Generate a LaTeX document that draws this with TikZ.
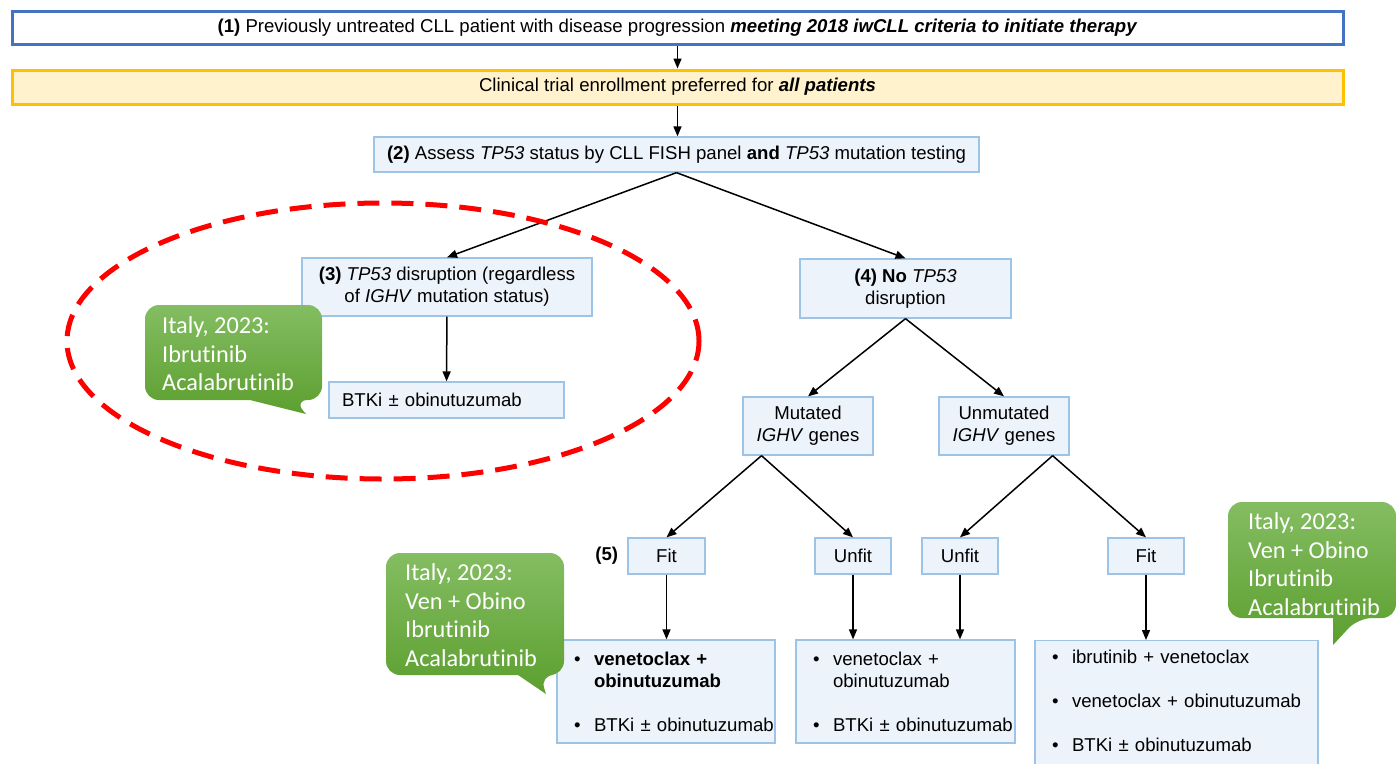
\documentclass[tikz,border=0pt]{standalone}
\usepackage{fontspec}
\setmainfont{Liberation Sans}
\newfontfamily\notefont[Ligatures=NoCommon]{Carlito}
\usetikzlibrary{arrows.meta,positioning,calc}
\definecolor{headblue}{HTML}{4472C4}
\definecolor{trialfill}{HTML}{FFF2CC}
\definecolor{trialdraw}{HTML}{FFC000}
\definecolor{stepfill}{HTML}{EDF3FB}
\definecolor{stepdraw}{HTML}{9DC3E6}
\definecolor{noteTop}{HTML}{84BD62}
\definecolor{noteBot}{HTML}{5C9F2F}
\definecolor{ringred}{HTML}{FF0000}
\newcommand{\itembul}[1]{\mbox{\hspace*{15pt}\makebox[20pt][l]{\textbullet}#1}}
\newcommand{\itemgap}[1]{\mbox{\hspace*{35pt}#1}}

\begin{document}
\begin{tikzpicture}[x=1pt,y=-1pt,
  font=\fontsize{18.6}{22}\selectfont,
  every node/.style={align=center},
  head/.style={draw=headblue,line width=3pt,fill=white,minimum width=1331pt,minimum height=33pt,inner sep=0pt},
  trial/.style={head,draw=trialdraw,fill=trialfill},
  process/.style={draw=stepdraw,line width=1.3pt,fill=stepfill,inner sep=0pt},
  therapy/.style={process,align=left,inner xsep=2pt},
  note/.style={align=left,text=white,font=\notefont\fontsize{24.3}{28.5}\selectfont,inner sep=0pt},
  bubble/.style={top color=noteTop,bottom color=noteBot},
  link/.style={-{Triangle[length=10pt,width=8pt]},line width=1.5pt},
  dashring/.style={draw=ringred,line width=5pt,dash pattern=on 22pt off 12pt}]

    \useasboundingbox (0,0) rectangle (1396,763);
    \clip (0,0) rectangle (1396,763);

    \node[head](start) at (677.5,27.5) {\textbf{(1)} Previously untreated CLL patient with disease progression \textbf{\textit{meeting 2018 iwCLL criteria to initiate therapy}}};
    \node[trial,minimum height=34pt](trial) at (677.5,87) {Clinical trial enrollment preferred for \textbf{\textit{all patients}}};
    \node[process,minimum width=605pt,minimum height=35pt](assess) at (676.5,154.5) {\textbf{(2)} Assess \textit{TP53} status by CLL FISH panel \textbf{and} \textit{TP53} mutation testing};

    \node[process,minimum width=290pt,minimum height=58pt](tpdis) at (447,287) {\textbf{(3)} \textit{TP53} disruption (regardless\\of \textit{IGHV} mutation status)};
    \node[process,minimum width=211pt,minimum height=59pt](notp) at (905.5,288.5) {\textbf{(4) No} \textit{TP53}\\disruption};
    \node[process,align=left,text width=209pt,inner xsep=13pt,minimum height=36pt](btki) at (446.5,400) {BTKi ± obinutuzumab};

    \node[process,minimum width=130pt,minimum height=58pt](mut) at (808,426) {Mutated\\\textit{IGHV} genes};
    \node[process,minimum width=130pt,minimum height=58pt](unmut) at (1004,426) {Unmutated\\\textit{IGHV} genes};

    \node[process,minimum width=77pt,minimum height=36pt](fitA) at (666.5,556) {Fit};
    \node[process,minimum width=76pt,minimum height=36pt](unfitA) at (853,556) {Unfit};
    \node[process,minimum width=76pt,minimum height=36pt](unfitB) at (960,556) {Unfit};
    \node[process,minimum width=76pt,minimum height=36pt](fitB) at (1146,556) {Fit};
    \node[left=9pt of fitA,inner sep=0pt](stage) {\textbf{(5)}};

    \node[therapy,text width=214pt,minimum height=103pt](txA) at (666,691.5) {\itembul{\textbf{venetoclax +}}\\\itemgap{\textbf{obinutuzumab}}\\[22pt]\itembul{BTKi ± obinutuzumab}};
    \node[therapy,text width=215pt,minimum height=103pt](txB) at (905.5,691.5) {\itembul{venetoclax +}\\\itemgap{obinutuzumab}\\[22pt]\itembul{BTKi ± obinutuzumab}};
    \node[therapy,text width=279pt,anchor=north,inner ysep=9.5pt](txC) at (1176.5,640) {\itembul{ibrutinib + venetoclax}\\[22pt]\itembul{venetoclax + obinutuzumab}\\[22pt]\itembul{BTKi ± obinutuzumab}\rule[-40pt]{0pt}{40pt}};

    \coordinate (mutfork) at ($(mut.south west)!0.146!(mut.south east)$);
    \coordinate (unmutfork) at ($(unmut.south west)!0.87!(unmut.south east)$);

    \draw[link](start) -- (trial);
    \draw[link](trial.south) -- (trial.south |- assess.north);
    \draw[link](assess.south) -- (tpdis.north);
    \draw[link](assess.south) -- (notp.north);
    \draw[link](tpdis) -- (btki);
    \draw[link](notp.south) -- (mut.north);
    \draw[link](notp.south) -- (unmut.north);
    \draw[link](mutfork) -- (fitA.north);
    \draw[link](mutfork) -- (unfitA.north);
    \draw[link](unmutfork) -- (unfitB.north);
    \draw[link](unmutfork) -- (fitB.north);
    \foreach \a/\b in {fitA/txA,unfitA/txB,unfitB/txB,fitB/txC}
        \draw[link](\a.south) -- (\a.south |- \b.north);

    \draw[dashring] (383,341) ellipse [x radius=316pt, y radius=138pt];

    \shade[bubble] (145,352) [rounded corners=14pt] -- (145,305) -- (322,305) -- (322,400) -- (294,400) [sharp corners] -- (306,414) -- (250,400) [rounded corners=14pt] -- (145,400) -- cycle;
    \node[note,anchor=west](note1) at (162,354) {Italy, 2023:\\Ibrutinib\\Acalabrutinib};

    \shade[bubble] (386,614) [rounded corners=14pt] -- (386,553) -- (564,553) -- (564,675) -- (540,675) [sharp corners] -- (546,694) -- (518,675) [rounded corners=14pt] -- (386,675) -- cycle;
    \node[note,anchor=west](note2) at (405,615) {Italy, 2023:\\Ven + Obino\\Ibrutinib\\Acalabrutinib};

    \shade[bubble] (1228,560) [rounded corners=14pt] -- (1228,502) -- (1396,502) -- (1396,618) -- (1358,618) [sharp corners] -- (1333,645) -- (1333,618) [rounded corners=14pt] -- (1228,618) -- cycle;
    \node[note,anchor=west](note3) at (1248,564) {Italy, 2023:\\Ven + Obino\\Ibrutinib\\Acalabrutinib};
\end{tikzpicture}
\end{document}
